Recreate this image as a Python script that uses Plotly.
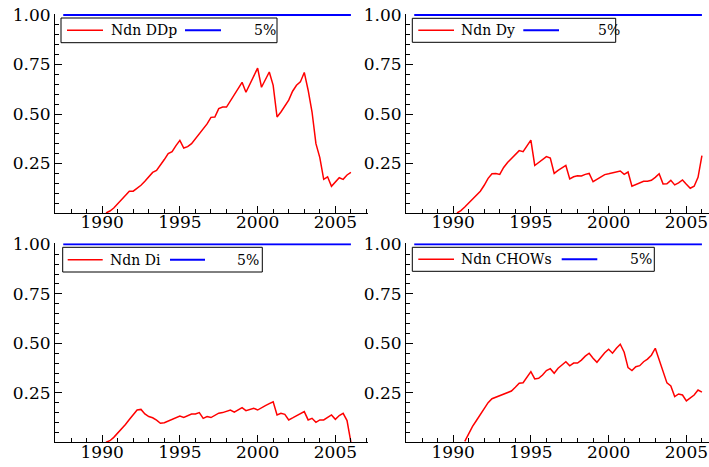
import plotly.graph_objects as go

W, H = 709, 467

# ---------------- data ----------------
dates_a = [1990.25 + 0.25 * i for i in range(64)]  # 1990.25 .. 2006.0
ddp = [0.00, 0.01, 0.025, 0.045, 0.065, 0.09, 0.11, 0.11, 0.125, 0.14, 0.16, 0.185,
       0.205, 0.215, 0.24, 0.27, 0.30, 0.31, 0.34, 0.367, 0.328, 0.335, 0.35, 0.375,
       0.40, 0.425, 0.45, 0.483, 0.485, 0.527, 0.535, 0.535, 0.565, 0.60, 0.63, 0.66,
       0.61, 0.65, 0.69, 0.732, 0.635, 0.67, 0.712, 0.645, 0.485, 0.51, 0.54, 0.57,
       0.615, 0.645, 0.662, 0.71, 0.62, 0.51, 0.35, 0.28, 0.17, 0.183, 0.135, 0.155,
       0.178, 0.17, 0.192, 0.205]
dy = [0.0, 0.012, 0.03, 0.05, 0.075, 0.09, 0.11, 0.14, 0.175, 0.198, 0.2, 0.195,
      0.23, 0.255, 0.275, 0.295, 0.315, 0.31, 0.34, 0.368, 0.24, 0.255, 0.27, 0.285,
      0.278, 0.2, 0.215, 0.228, 0.24, 0.172, 0.183, 0.188, 0.187, 0.195, 0.2, 0.158,
      0.17, 0.183, 0.194, 0.198, 0.203, 0.208, 0.212, 0.195, 0.207, 0.135, 0.143, 0.152,
      0.16, 0.16, 0.165, 0.18, 0.198, 0.147, 0.148, 0.165, 0.142, 0.152, 0.167, 0.145,
      0.125, 0.135, 0.18, 0.29]
di = [0.0, 0.008, 0.025, 0.045, 0.068, 0.09, 0.115, 0.14, 0.163, 0.166, 0.143, 0.13,
      0.124, 0.112, 0.096, 0.099, 0.107, 0.115, 0.124, 0.133, 0.126, 0.135, 0.143, 0.143,
      0.15, 0.121, 0.13, 0.125, 0.137, 0.147, 0.15, 0.155, 0.163, 0.152, 0.163, 0.175,
      0.16, 0.165, 0.172, 0.163, 0.172, 0.185, 0.195, 0.205, 0.138, 0.146, 0.141, 0.113,
      0.123, 0.133, 0.143, 0.155, 0.113, 0.121, 0.101, 0.113, 0.113, 0.124, 0.138, 0.116,
      0.135, 0.146, 0.11, 0.0]
dates_b = [1990.75 + 0.25 * i for i in range(62)]  # 1990.75 .. 2006.0
chows = [0.005, 0.045, 0.08, 0.11, 0.14, 0.17, 0.2, 0.22, 0.228, 0.232, 0.242, 0.25,
         0.259, 0.278, 0.298, 0.301, 0.328, 0.357, 0.32, 0.323, 0.34, 0.362, 0.372, 0.349,
         0.374, 0.39, 0.407, 0.386, 0.4, 0.4, 0.415, 0.435, 0.45, 0.425, 0.404, 0.428,
         0.452, 0.47, 0.45, 0.475, 0.495, 0.455, 0.377, 0.362, 0.382, 0.387, 0.407, 0.42,
         0.44, 0.475, 0.42, 0.365, 0.3, 0.285, 0.231, 0.244, 0.239, 0.209, 0.225, 0.239,
         0.264, 0.253]
crit_dates = [1987.5, 2006.0]
crit_vals = [1.0, 1.0]

names = ["Ndn DDp", "Ndn Dy", "Ndn Di", "Ndn CHOWs"]
crit_name = "5%"
xtick_vals = [1990, 1995, 2000, 2005]
ytick_vals = [0.25, 0.50, 0.75, 1.00]
ytick_text = ["0.25", "0.50", "0.75", "1.00"]

# ---------------- layout helpers ----------------
def fx(p):
    return p / W

def fy(p):
    return 1 - p / H

FONT = "DejaVu Serif"
TICK_SIZE = 17
LEG_SIZE = 14
PXY = 15.55  # px per year
X0 = 1986.97

# panel pixel geometry: (left, right, top(y=1), bottom(y=0))
panels = [
    (55, 367.7, 15, 213),
    (406, 709, 15, 213),
    (55, 367.7, 244.3, 442.3),
    (406, 709, 244.3, 442.3),
]
series = [(dates_a, ddp), (dates_a, dy), (dates_a, di), (dates_b, chows)]

fig = go.Figure()
layout = dict(template="none", width=W, height=H, margin=dict(l=0, r=0, t=0, b=0, pad=0),
              paper_bgcolor="white", plot_bgcolor="white", showlegend=False,
              font=dict(family=FONT, color="black"))
YTOP = 1.005
shapes, annotations = [], []

leg = [
    dict(box=(61, 277, 18, 42.7), red=(67, 103), txt=109, blue=(185, 221), pct=252),
    dict(box=(412.3, 615.7, 18.3, 42.3), red=(418.3, 454), txt=459, blue=(523.3, 559), pct=595.7),
    dict(box=(62.7, 262.3, 247.3, 272), red=(67.7, 102.7), txt=108.3, blue=(170, 205), pct=235),
    dict(box=(412.3, 654.3, 247.3, 271.3), red=(418.3, 454), txt=459, blue=(561.7, 597.3), pct=627.7),
]

for i, ((l, r, t, b), (xs, ys)) in enumerate(zip(panels, series)):
    k = "" if i == 0 else str(i + 1)
    xr = [X0, X0 + (r - l) / PXY]
    top_px = t - (YTOP - 1) * (b - t)
    layout["xaxis" + k] = dict(
        domain=[fx(l), fx(r)], range=xr, anchor="y" + k, automargin=False,
        showline=True, linecolor="black", linewidth=1, showgrid=False, zeroline=False,
        tickmode="array", tickvals=xtick_vals, ticks="inside", ticklen=7, tickcolor="black",
        tickfont=dict(family=FONT, size=TICK_SIZE, color="black"), ticklabelstandoff=-6,
        ticklabeloverflow="allow",
        minor=dict(tickmode="linear", tick0=1985, dtick=1, ticks="inside", ticklen=4,
                   tickcolor="black", showgrid=False),
    )
    layout["yaxis" + k] = dict(
        domain=[fy(b), fy(top_px)], range=[0, YTOP], anchor="x" + k, automargin=False,
        showline=True, linecolor="black", linewidth=1, showgrid=False, zeroline=False,
        tickmode="array", tickvals=ytick_vals, ticktext=ytick_text,
        ticks="inside", ticklen=7, tickcolor="black", ticklabeloverflow="allow",
        tickfont=dict(family=FONT, size=TICK_SIZE, color="black"),
        minor=dict(tickmode="linear", tick0=0, dtick=0.05, ticks="inside", ticklen=4,
                   tickcolor="black", showgrid=False),
    )
    fig.add_trace(go.Scatter(x=xs, y=ys, mode="lines", name=names[i],
                             line=dict(color="#ff0000", width=1.5),
                             xaxis="x" + k, yaxis="y" + k))
    fig.add_trace(go.Scatter(x=crit_dates, y=crit_vals, mode="lines", name=crit_name,
                             line=dict(color="#0000ff", width=2),
                             xaxis="x" + k, yaxis="y" + k))

    g = leg[i]
    bl, br, bt, bb = g["box"]
    cy = (bt + bb) / 2
    shapes.append(dict(type="rect", xref="paper", yref="paper",
                       x0=fx(bl), x1=fx(br), y0=fy(bb), y1=fy(bt),
                       line=dict(color="black", width=1), fillcolor="white", layer="above"))
    shapes.append(dict(type="line", xref="paper", yref="paper",
                       x0=fx(g["red"][0]), x1=fx(g["red"][1]), y0=fy(cy), y1=fy(cy),
                       line=dict(color="#ff0000", width=1.5), layer="above"))
    shapes.append(dict(type="line", xref="paper", yref="paper",
                       x0=fx(g["blue"][0]), x1=fx(g["blue"][1]), y0=fy(cy), y1=fy(cy),
                       line=dict(color="#0000ff", width=2), layer="above"))
    annotations.append(dict(xref="paper", yref="paper", x=fx(g["txt"]), y=fy(cy),
                            xanchor="left", yanchor="middle", showarrow=False,
                            text=names[i], font=dict(family=FONT, size=LEG_SIZE, color="black")))
    annotations.append(dict(xref="paper", yref="paper", x=fx(g["pct"]), y=fy(cy),
                            xanchor="left", yanchor="middle", showarrow=False,
                            text=crit_name, font=dict(family=FONT, size=LEG_SIZE, color="black")))

layout["shapes"] = shapes
layout["annotations"] = annotations
fig.update_layout(**layout)
fig.write_html("out.html")
